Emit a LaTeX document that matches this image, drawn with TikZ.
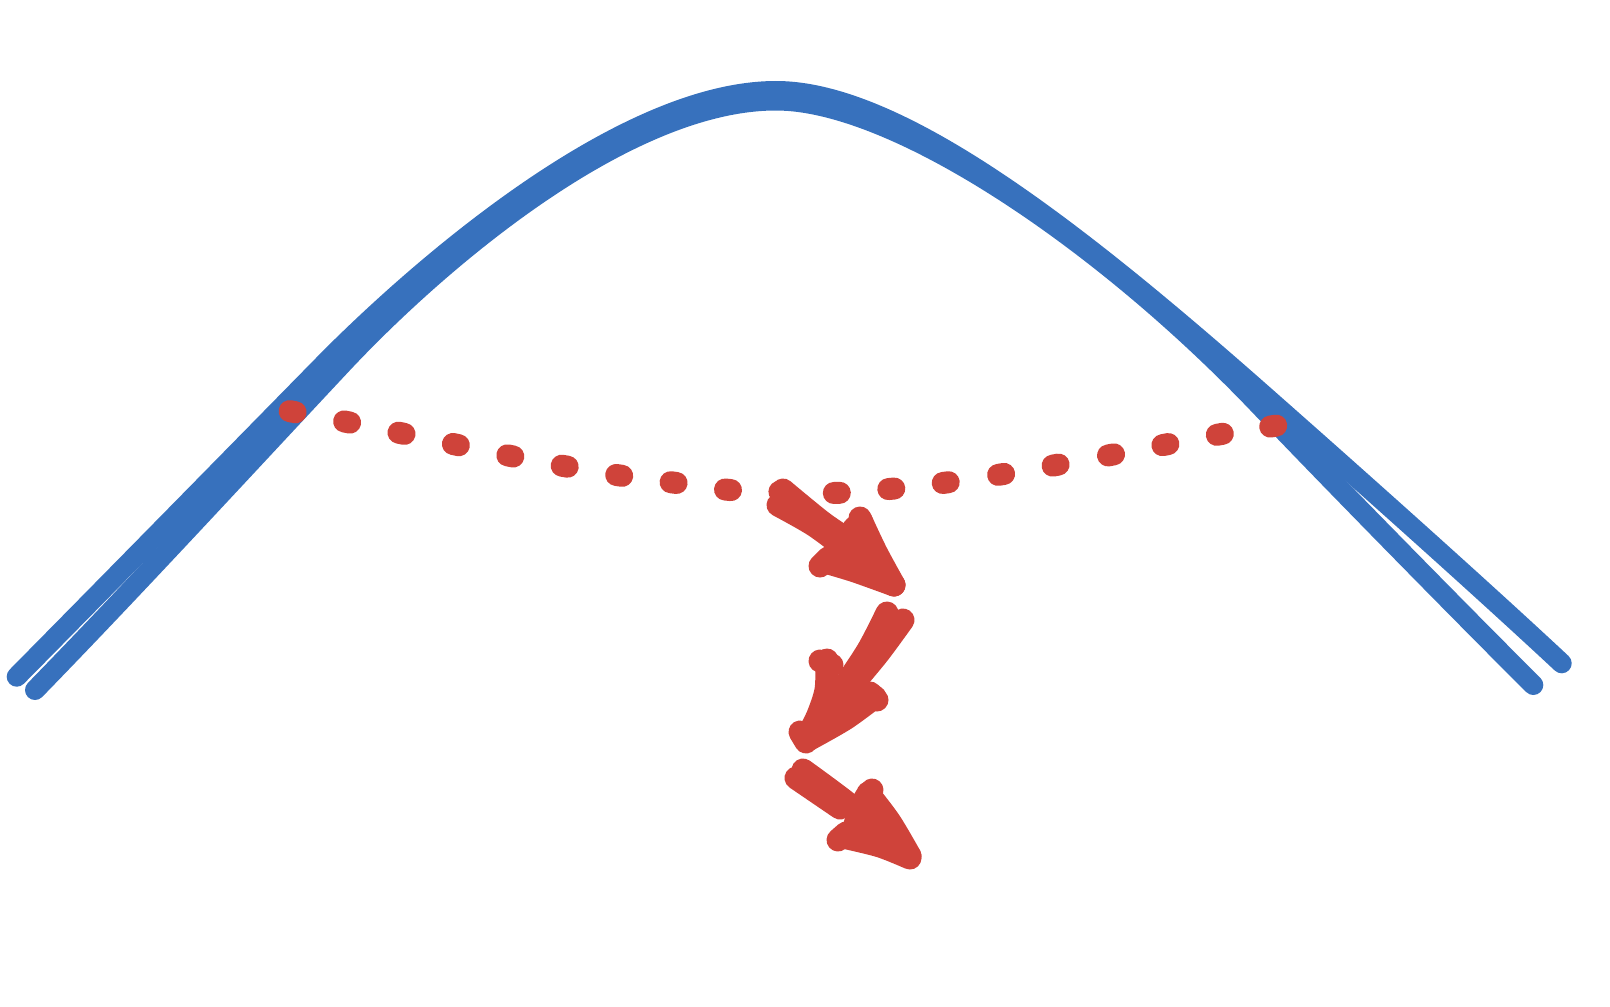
\documentclass[tikz,border=0pt]{standalone}
\definecolor{sketchblue}{RGB}{55,113,189}
\definecolor{sketchred}{RGB}{207,67,58}
\begin{document}
\begin{tikzpicture}[x=0.5pt,y=-0.5pt,
  bluestroke/.style={draw=sketchblue, line width=10pt, line cap=round, line join=round},
  redstroke/.style={draw=sketchred, line width=11.5pt, line cap=round, line join=round},
  redfill/.style={fill=sketchred, draw=sketchred, line width=4pt, line join=round},
  reddot/.style={draw=sketchred, line width=11pt, line cap=round}]
\useasboundingbox (0,0) rectangle (1610,1006);
% blue bell curve, outer stroke
\draw[bluestroke] (16.7,676.7) .. controls (120,572) and (226,464) .. (330,358)
  .. controls (430,258) and (626,91) .. (776,91)
  .. controls (900,91) and (1080,234) .. (1250,383)
  .. controls (1350,471) and (1480,587) .. (1561.7,663.3);
% blue bell curve, inner stroke
\draw[bluestroke] (35,690) .. controls (140,582) and (240,473) .. (344,362)
  .. controls (439,261) and (626,100.5) .. (776,100.5)
  .. controls (895,100.5) and (1102,240) .. (1260,406)
  .. controls (1340,490) and (1480,632) .. (1533.3,685);
% red dotted curve
\foreach \x/\y/\s in {292.6/411.7/0.19, 347.1/422.0/0.2, 401.5/433.3/0.21,
  455.9/444.6/0.21, 510.3/455.9/0.2, 564.7/466.2/0.17, 619.2/475.4/0.15,
  673.6/482.6/0.13, 728.0/489.8/0.1, 782.4/491.8/0.03, 836.8/492.9/-0.03,
  891.3/488.8/-0.09, 945.7/482.6/-0.13, 1001.1/474.4/-0.16,
  1055.6/465.1/-0.18, 1111.0/454.9/-0.19, 1165.4/444.6/-0.19,
  1219.8/434.3/-0.18, 1273.2/426.1/-0.16}
  \draw[reddot] (\x-3,\y-3*\s) -- (\x+3,\y+3*\s);
% arrow 1
\draw[redfill] (852,546) -- (872,540) -- (894,585) -- (838,568) -- cycle;
\draw[redstroke] plot[smooth] coordinates {(783,490) (822,522) (860,549) (894,585)};
\draw[redstroke] plot[smooth] coordinates {(778,505) (815,526) (855,556)};
\draw[redstroke] plot[smooth] coordinates {(860,518) (876,552) (894,585)};
\draw[redstroke] plot[smooth] coordinates {(854,528) (862,522)};
\draw[redstroke] plot[smooth] coordinates {(825,562) (855,571) (894,585)};
\draw[redstroke] plot[smooth] coordinates {(820,566) (828,558)};
% arrow 2
\draw[redfill] (832,685) -- (870,690) -- (808,736) -- (822,705) -- cycle;
\draw[redstroke] plot[smooth] coordinates {(887,613) (868,650) (840,692) (810,733)};
\draw[redstroke] plot[smooth] coordinates {(903,620) (878,654) (848,690)};
\draw[redstroke] plot[smooth] coordinates {(827,660) (826,690) (818,715) (808,735)};
\draw[redstroke] plot[smooth] coordinates {(820,661) (832,665)};
\draw[redstroke] plot[smooth] coordinates {(875,697) (845,719) (808,740)};
\draw[redstroke] plot[smooth] coordinates {(870,693) (877,700)};
\draw[redstroke] plot[smooth] coordinates {(800,732) (806,742)};
% arrow 3
\draw[redfill] (852,808) -- (872,795) -- (910,856) -- (845,832) -- cycle;
\draw[redstroke] plot[smooth] coordinates {(803,770) (850,805) (910,856)};
\draw[redstroke] plot[smooth] coordinates {(796,778) (840,808)};
\draw[redstroke] plot[smooth] coordinates {(868,793) (890,822) (910,856)};
\draw[redstroke] plot[smooth] coordinates {(865,798) (872,790)};
\draw[redstroke] plot[smooth] coordinates {(843,837) (880,846) (910,858)};
\draw[redstroke] plot[smooth] coordinates {(838,840) (846,833)};
\end{tikzpicture}
\end{document}
